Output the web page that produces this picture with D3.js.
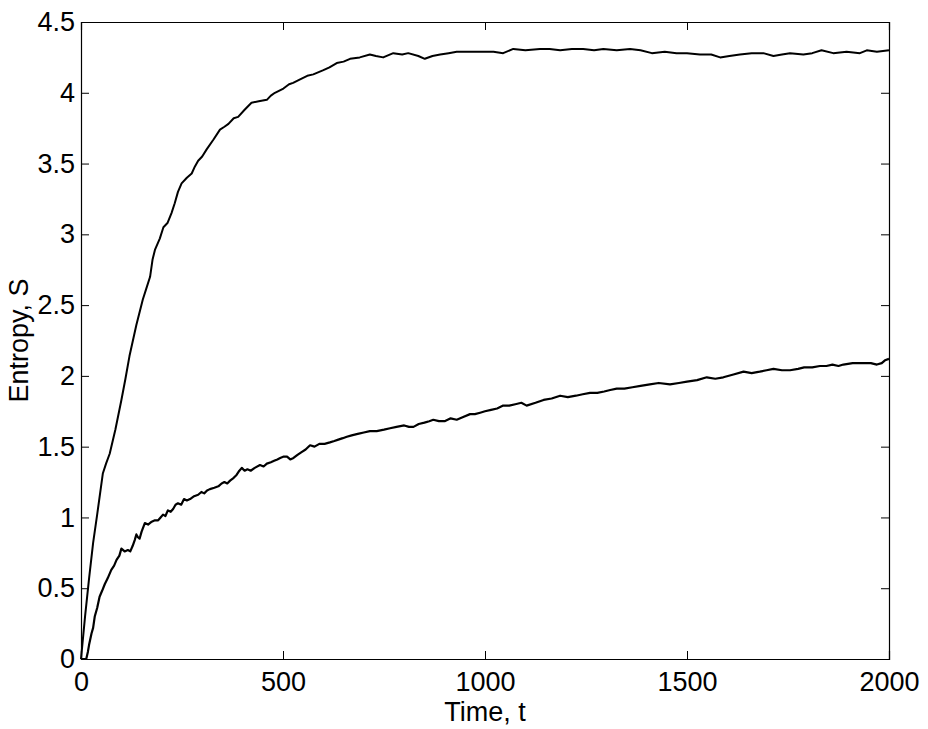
<!DOCTYPE html>
<html>
<head>
<meta charset="utf-8">
<script src="https://cdn.jsdelivr.net/npm/d3@7"></script>
<style>
  html, body { margin: 0; padding: 0; background: #fff; }
  svg { display: block; }
  text { font-family: "Liberation Sans", Arial, Helvetica, sans-serif; fill: #000; }
</style>
</head>
<body>
<svg id="chart" width="928" height="729"></svg>
<script>
// ---- Data ----
const xTicks = [0, 500, 1000, 1500, 2000];
const yTicks = [0, 0.5, 1, 1.5, 2, 2.5, 3, 3.5, 4, 4.5];
const xLabel = "Time, t";
const yLabel = "Entropy, S";

// Upper curve: time and entropy
const upperT = [0, 10, 20, 30, 40, 54, 62, 71, 85, 100, 110, 120, 130, 137, 153, 162, 171, 177, 183, 195, 204, 214, 224, 232, 240, 249, 262, 274, 282, 290, 300, 311, 328, 344, 355, 365, 378, 389, 405, 422, 440, 460, 470, 480, 501, 515, 525, 546, 560, 575, 600, 615, 633, 650, 666, 690, 715, 730, 748, 773, 795, 810, 835, 851, 870, 889, 910, 930, 960, 988, 1021, 1045, 1070, 1100, 1136, 1160, 1186, 1215, 1243, 1270, 1293, 1326, 1359, 1385, 1413, 1445, 1474, 1500, 1532, 1560, 1582, 1605, 1631, 1660, 1689, 1714, 1735, 1755, 1788, 1810, 1833, 1862, 1895, 1928, 1945, 1970, 2000];
const upperS = [0, 0.30, 0.57, 0.82, 1.02, 1.31, 1.38, 1.45, 1.62, 1.83, 1.98, 2.14, 2.27, 2.36, 2.54, 2.62, 2.70, 2.82, 2.89, 2.97, 3.05, 3.08, 3.15, 3.22, 3.30, 3.36, 3.40, 3.43, 3.48, 3.52, 3.55, 3.60, 3.67, 3.74, 3.76, 3.78, 3.82, 3.83, 3.88, 3.93, 3.94, 3.95, 3.98, 4.00, 4.03, 4.06, 4.07, 4.10, 4.12, 4.13, 4.16, 4.18, 4.21, 4.22, 4.24, 4.25, 4.27, 4.26, 4.25, 4.28, 4.27, 4.28, 4.26, 4.24, 4.26, 4.27, 4.28, 4.29, 4.29, 4.29, 4.29, 4.28, 4.31, 4.30, 4.31, 4.31, 4.30, 4.31, 4.31, 4.30, 4.31, 4.30, 4.31, 4.30, 4.28, 4.29, 4.28, 4.28, 4.27, 4.27, 4.25, 4.26, 4.27, 4.28, 4.28, 4.26, 4.27, 4.28, 4.27, 4.28, 4.30, 4.28, 4.29, 4.28, 4.30, 4.29, 4.30];

// Lower curve: time and entropy
const lowerT = [0, 13, 17, 20, 26, 30, 34, 40, 46, 52, 59, 66, 75, 82, 88, 95, 100, 108, 116, 122, 128, 133, 137, 141, 145, 150, 158, 166, 175, 183, 191, 197, 203, 209, 215, 222, 228, 234, 240, 248, 255, 262, 270, 280, 290, 298, 305, 312, 319, 330, 340, 348, 355, 362, 369, 378, 385, 392, 398, 405, 412, 420, 430, 443, 452, 460, 470, 478, 486, 493, 502, 510, 518, 526, 535, 545, 556, 567, 578, 590, 603, 616, 627, 637, 648, 658, 670, 685, 700, 715, 732, 750, 765, 781, 800, 812, 823, 836, 850, 862, 872, 886, 900, 915, 930, 946, 963, 975, 988, 1000, 1015, 1030, 1045, 1060, 1075, 1090, 1103, 1125, 1145, 1165, 1186, 1205, 1225, 1242, 1260, 1278, 1295, 1310, 1326, 1345, 1365, 1385, 1408, 1430, 1458, 1480, 1500, 1525, 1549, 1570, 1590, 1615, 1640, 1660, 1680, 1697, 1714, 1735, 1755, 1775, 1790, 1810, 1829, 1845, 1860, 1875, 1887, 1910, 1936, 1955, 1970, 1982, 1990, 2000];
const lowerS = [0, 0, 0.05, 0.10, 0.18, 0.22, 0.30, 0.36, 0.44, 0.48, 0.53, 0.57, 0.63, 0.66, 0.70, 0.73, 0.78, 0.76, 0.77, 0.76, 0.80, 0.84, 0.88, 0.86, 0.85, 0.90, 0.96, 0.95, 0.97, 0.98, 0.98, 1.00, 1.02, 1.01, 1.05, 1.04, 1.06, 1.09, 1.10, 1.09, 1.13, 1.12, 1.13, 1.15, 1.16, 1.18, 1.17, 1.19, 1.20, 1.21, 1.22, 1.24, 1.25, 1.24, 1.26, 1.28, 1.30, 1.33, 1.35, 1.33, 1.34, 1.33, 1.35, 1.37, 1.36, 1.38, 1.39, 1.40, 1.41, 1.42, 1.43, 1.43, 1.41, 1.42, 1.44, 1.46, 1.48, 1.51, 1.50, 1.52, 1.52, 1.53, 1.54, 1.55, 1.56, 1.57, 1.58, 1.59, 1.60, 1.61, 1.61, 1.62, 1.63, 1.64, 1.65, 1.64, 1.64, 1.66, 1.67, 1.68, 1.69, 1.68, 1.68, 1.70, 1.69, 1.71, 1.73, 1.73, 1.74, 1.75, 1.76, 1.77, 1.79, 1.79, 1.80, 1.81, 1.79, 1.81, 1.83, 1.84, 1.86, 1.85, 1.86, 1.87, 1.88, 1.88, 1.89, 1.90, 1.91, 1.91, 1.92, 1.93, 1.94, 1.95, 1.94, 1.95, 1.96, 1.97, 1.99, 1.98, 1.99, 2.01, 2.03, 2.02, 2.03, 2.04, 2.05, 2.04, 2.04, 2.05, 2.06, 2.06, 2.07, 2.07, 2.08, 2.07, 2.08, 2.09, 2.09, 2.09, 2.08, 2.09, 2.11, 2.12];

// ---- Layout ----
const margin = { left: 81, right: 928 - 889, top: 22, bottom: 729 - 659 };
const width = 928, height = 729;
const svg = d3.select("#chart");

const x = d3.scaleLinear().domain([0, 2000]).range([margin.left, width - margin.right]);
const y = d3.scaleLinear().domain([0, 4.5]).range([height - margin.bottom, margin.top]);

const fontSize = 27;
const tickLen = 8;

// Frame ticks (inward, MATLAB style) on all four sides
const gBottom = svg.append("g").attr("transform", `translate(0,${y(0)})`)
  .call(d3.axisBottom(x).tickValues(xTicks).tickSize(-tickLen).tickPadding(13).tickFormat(d3.format("d")));
const gTop = svg.append("g").attr("transform", `translate(0,${y(4.5)})`)
  .call(d3.axisTop(x).tickValues(xTicks).tickSize(-tickLen).tickFormat(""));
const gLeft = svg.append("g").attr("transform", `translate(${x(0)},0)`)
  .call(d3.axisLeft(y).tickValues(yTicks).tickSize(-tickLen).tickPadding(6).tickFormat(d => d3.format("")(d)));
const gRight = svg.append("g").attr("transform", `translate(${x(2000)},0)`)
  .call(d3.axisRight(y).tickValues(yTicks).tickSize(-tickLen).tickFormat(""));

[gBottom, gTop, gLeft, gRight].forEach(g => {
  g.select(".domain").attr("stroke", "#000").attr("stroke-width", 1.2);
  g.selectAll(".tick line").attr("stroke", "#000").attr("stroke-width", 1);
  g.selectAll(".tick text")
    .attr("font-family", "'Liberation Sans', Arial, Helvetica, sans-serif")
    .attr("font-size", fontSize).attr("fill", "#000");
});
gBottom.selectAll(".tick text").attr("dy", "0.71em");

// Curves
const line = d3.line().x(d => x(d[0])).y(d => y(d[1]));
const upper = upperT.map((t, i) => [t, upperS[i]]);
const lower = lowerT.map((t, i) => [t, lowerS[i]]);

svg.append("path").datum(upper).attr("d", line)
  .attr("fill", "none").attr("stroke", "#000").attr("stroke-width", 2).attr("stroke-linejoin", "round");
svg.append("path").datum(lower).attr("d", line)
  .attr("fill", "none").attr("stroke", "#000").attr("stroke-width", 2.2).attr("stroke-linejoin", "round");

// Axis labels
svg.append("text")
  .attr("x", (x(0) + x(2000)) / 2).attr("y", 721)
  .attr("text-anchor", "middle").attr("font-size", fontSize)
  .text(xLabel);
svg.append("text")
  .attr("transform", `translate(28,${(y(0) + y(4.5)) / 2}) rotate(-90)`)
  .attr("text-anchor", "middle").attr("font-size", fontSize)
  .text(yLabel);
</script>
</body>
</html>
